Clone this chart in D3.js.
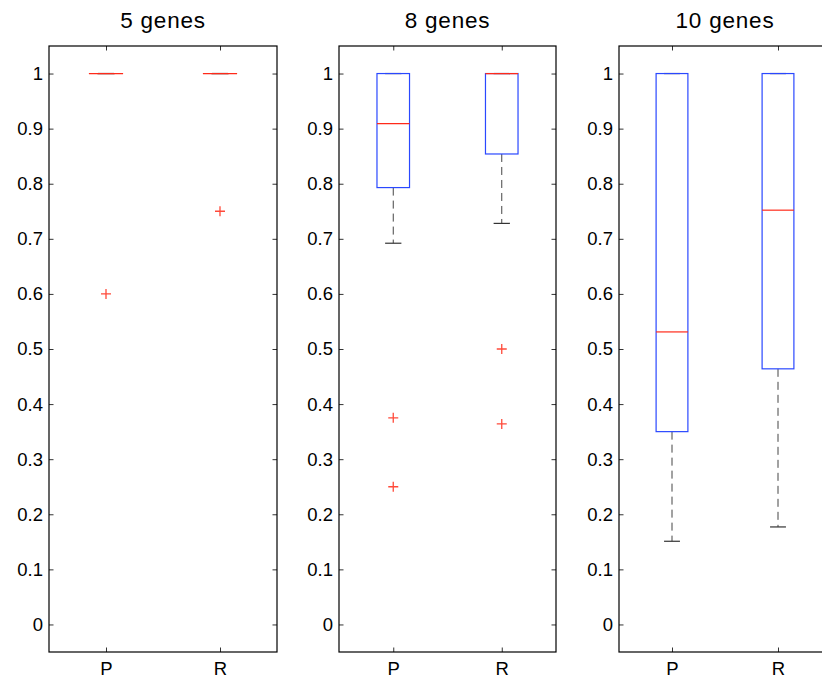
<!DOCTYPE html>
<html>
<head>
    <meta charset="UTF-8">
    <title>genes boxplot</title>
    <style>
        body { margin: 0; background: #fff; }
        text { font-family: "Liberation Sans", Arial, Helvetica, sans-serif; fill: #000; }
    </style>
</head>
<body>
<div id="chart"></div>
<script src="https://cdn.jsdelivr.net/npm/d3@7"></script>
<script>
    // data
    var titles = ["5 genes", "8 genes", "10 genes"];
    var groups = ["P", "R"];
    var yTicks = [0, 0.1, 0.2, 0.3, 0.4, 0.5, 0.6, 0.7, 0.8, 0.9, 1];

    var lowWhisker  = [[1, 1], [0.692, 0.728], [0.151, 0.177]];
    var q1          = [[1, 1], [0.793, 0.854], [0.350, 0.464]];
    var median      = [[1, 1], [0.909, 1],     [0.531, 0.752]];
    var q3          = [[1, 1], [1, 1],         [1, 1]];
    var highWhisker = [[1, 1], [1, 1],         [1, 1]];
    var outliers    = [[[0.6], [0.75]], [[0.375, 0.25], [0.5, 0.364]], [[], []]];

    // layout
    var W = 822, H = 683;
    var panelLeft  = [49, 339, 619];
    var panelRight = [277, 556, 831];
    var plotTop = 46, plotBottom = 652;
    var tickLen = 4.5;

    var svg = d3.select("#chart").append("svg")
        .attr("width", W)
        .attr("height", H);

    var y = d3.scaleLinear().domain([-0.05, 1.05]).range([plotBottom, plotTop]);

    titles.forEach(function(title, p){
        var x = d3.scaleLinear().domain([0.5, 2.5]).range([panelLeft[p], panelRight[p]]);
        var unit = x(1) - x(0);
        var boxW = 0.3 * unit, capW = 0.15 * unit;
        var g = svg.append("g");

        //軸
        var left = g.append("g")
            .attr("transform", "translate(" + panelLeft[p] + ",0)")
            .call(d3.axisLeft(y).tickValues(yTicks).tickSizeInner(-tickLen).tickSizeOuter(0)
                .tickPadding(6).tickFormat(function(d){ return String(d); }));
        var right = g.append("g")
            .attr("transform", "translate(" + panelRight[p] + ",0)")
            .call(d3.axisRight(y).tickValues(yTicks).tickSizeInner(-tickLen).tickSizeOuter(0)
                .tickFormat(""));
        var bot = g.append("g")
            .attr("transform", "translate(0," + plotBottom + ")")
            .call(d3.axisBottom(x).tickValues([1, 2]).tickSizeInner(-tickLen).tickSizeOuter(0)
                .tickPadding(10).tickFormat(function(d){ return groups[d - 1]; }));
        var tp = g.append("g")
            .attr("transform", "translate(0," + plotTop + ")")
            .call(d3.axisTop(x).tickValues([1, 2]).tickSizeInner(-tickLen).tickSizeOuter(0)
                .tickFormat(""));
        [left, right, bot, tp].forEach(function(a){
            a.select(".domain").remove();
            a.selectAll("line").attr("stroke", "#333");
            a.selectAll("text").style("font-size", "18.5px")
                .style("font-family", "'Liberation Sans', Arial, sans-serif");
        });

        g.append("rect")
            .attr("x", panelLeft[p]).attr("y", plotTop)
            .attr("width", panelRight[p] - panelLeft[p]).attr("height", plotBottom - plotTop)
            .attr("fill", "none").attr("stroke", "#000").attr("stroke-width", 1.2);

        g.append("text")
            .attr("x", (panelLeft[p] + panelRight[p]) / 2)
            .attr("y", 28)
            .attr("text-anchor", "middle")
            .style("font-size", "22.5px")
            .style("letter-spacing", "0.8px")
            .text(title);

        groups.forEach(function(name, i){
            var cx = x(i + 1);
            // whiskers
            g.append("line")
                .attr("x1", cx).attr("x2", cx)
                .attr("y1", y(q1[p][i])).attr("y2", y(lowWhisker[p][i]))
                .attr("stroke", "#444").attr("stroke-dasharray", "8,5");
            g.append("line")
                .attr("x1", cx).attr("x2", cx)
                .attr("y1", y(q3[p][i])).attr("y2", y(highWhisker[p][i]))
                .attr("stroke", "#444").attr("stroke-dasharray", "8,5");
            [lowWhisker[p][i], highWhisker[p][i]].forEach(function(v){
                g.append("line")
                    .attr("x1", cx - capW / 2).attr("x2", cx + capW / 2)
                    .attr("y1", y(v)).attr("y2", y(v))
                    .attr("stroke", "#333").attr("stroke-width", 1.2);
            });
            // box
            g.append("rect")
                .attr("x", cx - boxW / 2).attr("width", boxW)
                .attr("y", y(q3[p][i])).attr("height", y(q1[p][i]) - y(q3[p][i]))
                .attr("fill", "none").attr("stroke", "#2a48ff").attr("stroke-width", 1.2);
            // median
            g.append("line")
                .attr("x1", cx - boxW / 2).attr("x2", cx + boxW / 2)
                .attr("y1", y(median[p][i])).attr("y2", y(median[p][i]))
                .attr("stroke", "#ff2a1a").attr("stroke-width", 1.2);
            // outliers
            outliers[p][i].forEach(function(v){
                g.append("path")
                    .attr("d", "M" + (cx - 5) + "," + y(v) + "h10M" + cx + "," + (y(v) - 5) + "v10")
                    .attr("stroke", "#ff4a3a").attr("stroke-width", 1.3).attr("fill", "none");
            });
        });
    });
</script>
</body>
</html>
